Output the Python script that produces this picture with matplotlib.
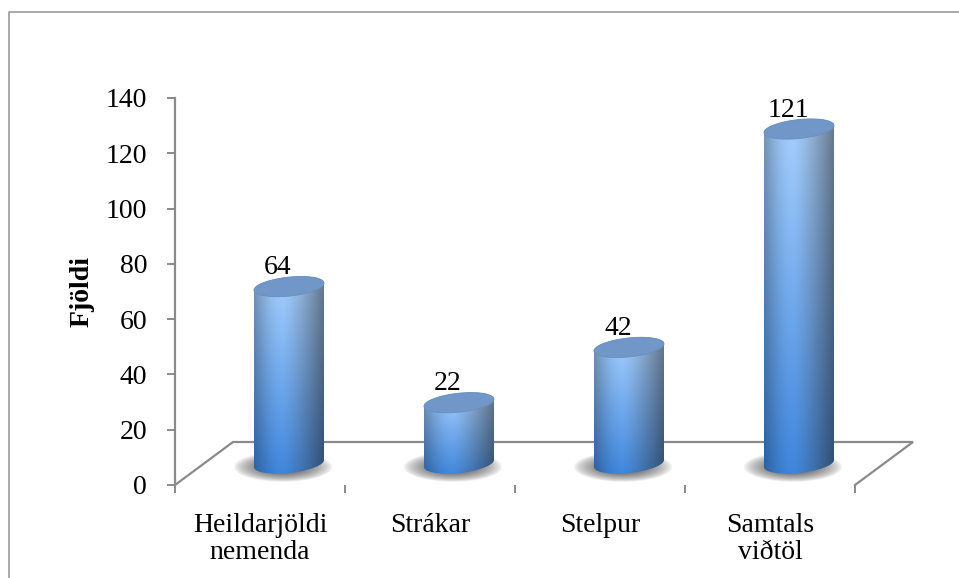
import numpy as np
import matplotlib
matplotlib.use('Agg')
import matplotlib.pyplot as plt
from matplotlib.path import Path
from matplotlib.patches import PathPatch, Polygon
from matplotlib.lines import Line2D

plt.rcParams['font.family'] = ['Liberation Serif', 'DejaVu Serif']

categories = ["Heildarjöldi\nnemenda", "Strákar", "Stelpur", "Samtals\nviðtöl"]
values = [64, 22, 42, 121]
y_ticks = [0, 20, 40, 60, 80, 100, 120, 140]
y_label = "Fjöldi"

W, H = 959, 578
fig = plt.figure(figsize=(W / 100, H / 100), dpi=100)
ax = fig.add_axes([175 / W, 93 / H, 680 / W, 387 / H])
ax.set_xlim(-0.5, 3.5)
ax.set_ylim(0, 140)

# pixel -> data scale
px_x = (680 / 4)          # px per category
px_y = 387 / 140          # px per value unit
grey = '#8a8a8a'

# 3d floor depth (px)
dep_x, dep_y = 58 / px_x, 43 / px_y

# floor parallelogram
x0, x1 = -0.5, 3.5
ax.plot([x0, x0 + dep_x, x1 + dep_x, x1], [0, dep_y, dep_y, 0],
        color=grey, lw=1.6, zorder=1, clip_on=False, solid_joinstyle='miter')

a = 35 / px_x        # half width
b = 9.5              # px, half height of ellipse
s = 0.1              # tilt of ellipse


def ell(cx, cy, t):
    x = cx + a * np.cos(t)
    y = cy + (b * np.sin(t) + s * 35 * np.cos(t)) / px_y
    return x, y


def shade(n_h=220, n_w=120):
    u = np.linspace(0, 1, n_w)
    v = np.linspace(0, 1, n_h)[:, None]
    top = np.array([0.66, 0.82, 1.0])
    bot = np.array([0.24, 0.52, 0.86])
    base = top + (bot - top) * v[..., None]
    f = np.where(u < 0.42, 0.72 + 0.28 * np.sin(np.pi / 2 * u / 0.42),
                 1 - 0.42 * ((u - 0.42) / 0.58) ** 1.3)
    img = base * f[None, :, None]
    g = np.where(u > 0.42, (u - 0.42) / 0.58, 0)[None, :, None] * 0.25
    img = img * (1 - g) + img.mean(axis=2, keepdims=True) * g
    return np.clip(img, 0, 1)


def shadow_img(n=80):
    xx = np.linspace(-1, 1, n)
    X, Y = np.meshgrid(xx, xx)
    r = np.sqrt(X ** 2 + Y ** 2)
    alpha = np.clip(1 - r, 0, 1) ** 0.7 * 0.9
    img = np.zeros((n, n, 4))
    img[..., :3] = 0.15
    img[..., 3] = alpha
    return img


for i, val in enumerate(values):
    cx = i + dep_x / 2
    y0 = dep_y / 2
    y1 = y0 + val

    # shadow
    sx = cx - 6 / px_x
    sy = y0 - 4 / px_y
    ax.imshow(shadow_img(), extent=[sx - 50 / px_x, sx + 50 / px_x,
                                    sy - 15 / px_y, sy + 15 / px_y],
              aspect='auto', zorder=2, interpolation='bilinear')

    # body
    t1 = np.linspace(np.pi, 2 * np.pi, 60)
    t2 = np.linspace(0, np.pi, 60)
    bx, by = ell(cx, y0, t1)
    tx, ty = ell(cx, y1, t2)
    verts = np.column_stack([np.r_[bx, tx], np.r_[by, ty]])
    body = PathPatch(Path(np.vstack([verts, verts[:1]]), closed=True),
                     facecolor='none', edgecolor='none', transform=ax.transData, zorder=3)
    ax.add_patch(body)
    pad = (b + 4) / px_y
    im = ax.imshow(shade(), extent=[cx - a, cx + a, y0 - pad, y1 + pad],
                   aspect='auto', zorder=3, interpolation='bilinear')
    im.set_clip_path(body)

    # top cap
    tc = np.linspace(0, 2 * np.pi, 120)
    ex, ey = ell(cx, y1, tc)
    ax.add_patch(Polygon(np.column_stack([ex, ey]), closed=True, facecolor='#7097c8',
                         edgecolor='#6a8fbd', lw=0.6, zorder=4))

    # value label
    ax.annotate(str(val), (cx - 11 / px_x, y1), xytext=(0, 9), textcoords='offset points',
                ha='center', va='baseline', fontsize=20, zorder=5)

ax.set_xlim(-0.5, 3.5)
ax.set_ylim(0, 140)

for sp in ['top', 'right', 'bottom']:
    ax.spines[sp].set_visible(False)
ax.spines['left'].set_color(grey)
ax.spines['left'].set_linewidth(1.6)
ax.patch.set_visible(False)

ax.set_yticks(y_ticks)
ax.tick_params(axis='y', length=6, width=1.4, color=grey, pad=14, labelsize=20)
ax.set_xticks(range(len(categories)))
ax.set_xticklabels(categories, linespacing=1.1)
ax.tick_params(axis='x', length=0, pad=20, labelsize=20)
ax.set_xticks(np.arange(-0.5, 4, 1), minor=True)
ax.tick_params(axis='x', which='minor', length=6, width=1.4, color=grey)

ax.set_ylabel(y_label, fontsize=20, fontweight='bold', labelpad=8)

# chart border
fig.add_artist(Line2D([8.5 / W, 8.5 / W, 1.0], [0, 1 - 12 / H, 1 - 12 / H],
                      transform=fig.transFigure, color='#999999', lw=1.2))

fig.savefig('out.png', dpi=100)
